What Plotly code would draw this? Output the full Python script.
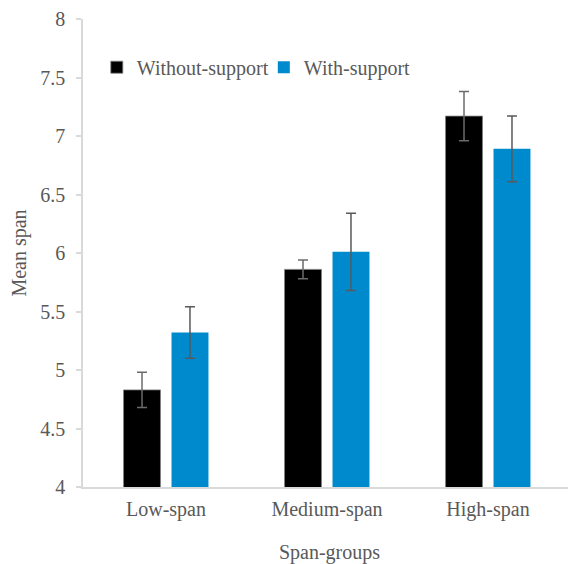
import plotly.graph_objects as go

categories = ["Low-span", "Medium-span", "High-span"]
without_support = [4.83, 5.86, 7.17]
without_err = [0.15, 0.08, 0.21]
with_support = [5.32, 6.01, 6.89]
with_err = [0.22, 0.33, 0.28]

font_family = "Liberation Serif"
txt = "#595959"

fig = go.Figure()
fig.add_trace(go.Bar(
    name="Without-support", x=categories, y=without_support,
    marker=dict(color="#000000", line=dict(color="#7f7f7f", width=0.8)),
    error_y=dict(type="data", array=without_err, color="#6b6b6b", thickness=1.5, width=5),
))
fig.add_trace(go.Bar(
    name="With-support", x=categories, y=with_support,
    marker=dict(color="#008ACE", line=dict(color="#008ACE", width=0)),
    error_y=dict(type="data", array=with_err, color="#595959", thickness=1.5, width=5),
))

# page body has an 8px margin, so the figure is drawn 8px smaller and offset
fig.update_layout(
    width=568, height=556,
    margin=dict(l=75, r=0, t=11, b=77),
    paper_bgcolor="white", plot_bgcolor="white",
    barmode="group", bargap=0.404, bargroupgap=0.23,
    font=dict(family=font_family, size=20, color=txt),
    legend=dict(orientation="h", x=0.028, y=0.897, xanchor="left", yanchor="middle",
                font=dict(size=20, color=txt), bgcolor="rgba(0,0,0,0)",
                entrywidth=122, entrywidthmode="pixels", traceorder="normal"),
    showlegend=True,
)
fig.update_xaxes(
    type="category", range=[-0.5155, 2.5466], automargin=False,
    showline=True, linecolor="#D9D9D9", linewidth=1.5,
    ticks="", showgrid=False, zeroline=False, ticklabelstandoff=3,
    title=dict(text="Span-groups", standoff=32, font=dict(size=20, color=txt)),
    tickfont=dict(size=20, color=txt),
)
fig.update_yaxes(
    range=[4, 8], dtick=0.5, tickformat="~g", automargin=False,
    showline=True, linecolor="#D9D9D9", linewidth=1.5,
    ticks="outside", ticklen=5, tickcolor="#D9D9D9", tickwidth=1.5,
    showgrid=False, zeroline=False, ticklabelstandoff=7,
    title=dict(text="Mean span", standoff=14, font=dict(size=20, color=txt)),
    tickfont=dict(size=20, color=txt),
)

fig.write_html("out.html")
